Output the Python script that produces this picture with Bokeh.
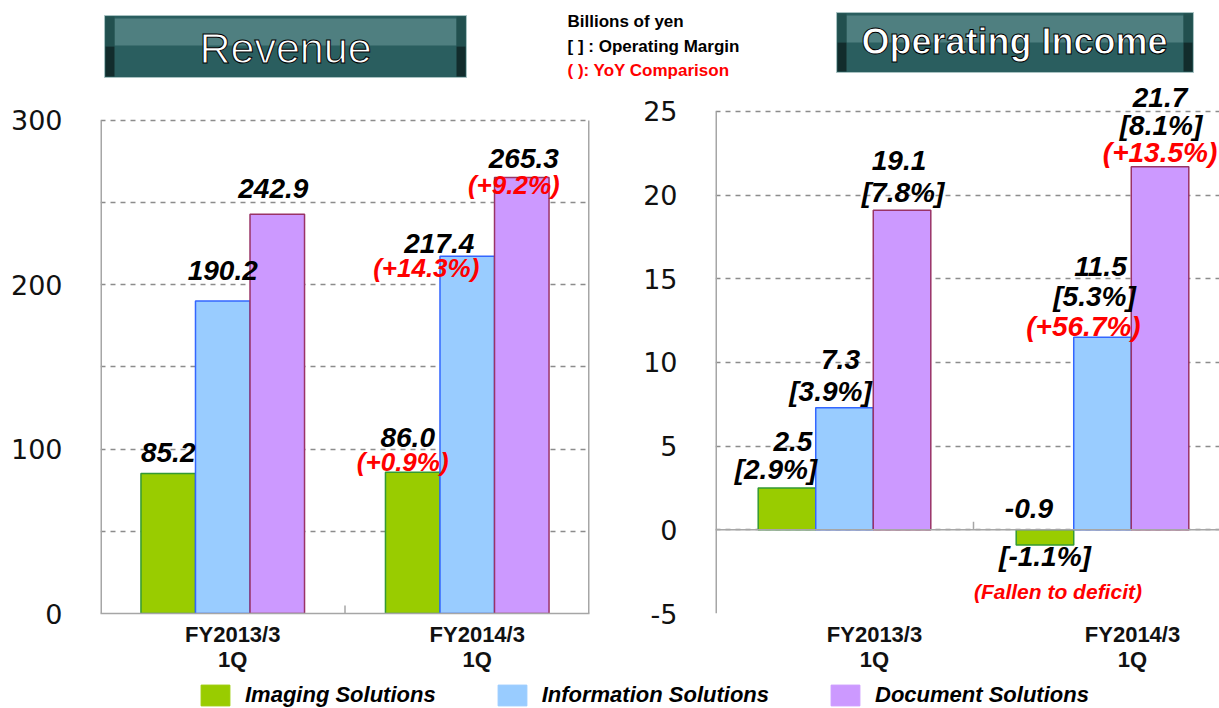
from bokeh.plotting import figure
from bokeh.models import (ColumnDataSource, Range1d, FixedTicker, LabelSet, Span,
                          Legend, LegendItem)
from bokeh.layouts import column, row
from bokeh.embed import file_html
from bokeh.resources import INLINE
from bokeh.core.properties import value, field

# ---------------- data ----------------
categories = ["FY2013/3\n1Q", "FY2014/3\n1Q"]
segments = ["Imaging Solutions", "Information Solutions", "Document Solutions"]

revenue_imaging = [85.2, 86.0]
revenue_information = [190.2, 217.4]
revenue_document = [242.9, 265.3]
revenue_yoy_imaging = [None, 0.9]
revenue_yoy_information = [None, 14.3]
revenue_yoy_document = [None, 9.2]

income_imaging = [2.5, -0.9]
income_information = [7.3, 11.5]
income_document = [19.1, 21.7]
margin_imaging = [2.9, -1.1]
margin_information = [3.9, 5.3]
margin_document = [7.8, 8.1]
income_yoy_imaging = [None, "Fallen to deficit"]
income_yoy_information = [None, 56.7]
income_yoy_document = [None, 13.5]

revenue_ticks = [0, 100, 200, 300]
income_ticks = [-5, 0, 5, 10, 15, 20, 25]

header_notes = ["Billions of yen", "[ ] : Operating Margin", "( ): YoY Comparison"]

# ---------------- styles ----------------
FONT = "Liberation Sans"
TICK_FONT = "DejaVu Sans"
FILL = ["#99cc00", "#99ccff", "#cc99ff"]
EDGE = ["#339933", "#3366ff", "#993366"]
RED = "#ff0000"
AXIS_GREY = "#a6a6a6"
GRID_GREY = "#8c8c8c"
BAR_W = 0.223

# label placement nudges:
# (per-line x nudge px, lowest line centre above bar top px, line spacing px)
REV_LABELS = {
    (0, 0): ([0], 21, 26), (1, 0): ([0], 30, 26), (2, 0): ([-4], 26, 26),
    (0, 1): ([-5, -10], 10, 25), (1, 1): ([-28, -41], -12, 25), (2, 1): ([2, -8], -8, 27),
}
INC_LABELS = {
    (0, 0): ([6, -11], 18, 28), (1, 0): ([-4, -14], 16, 32), (2, 0): ([-3, 1], 18, 32),
    (1, 1): ([-2, -8, -19], 11, 30), (2, 1): ([0, 1, 0], 14, 27.5),
}
INC_NEG = ([-16, 0, 13], 21, [12, 47])

HEAD_H = 80
CH_H = 594
LEG_H = 708 - HEAD_H - CH_H
FRAME_H = 534            # shared plotting-area height of both charts (row aligns them)
REV_TOP_PAD = 40         # px between frame top and the top revenue tick
INC_TOP_PAD = 31         # px between frame top and the top income tick


def label_source(vals, margins, yoys, layout, neg, sizes):
    d = dict(x=[], y=[], text=[], xo=[], yo=[], color=[], size=[])

    def add(x, y, t, xo, yo, col, sz):
        d["x"].append(x); d["y"].append(y); d["text"].append(t)
        d["xo"].append(xo); d["yo"].append(yo); d["color"].append(col); d["size"].append(sz)

    for s in range(len(vals)):
        for c, v in enumerate(vals[s]):
            xc = c + 0.5 + (s - 1) * BAR_W
            lines = [(f"{v:.1f}", "black", sizes["value"])]
            if margins is not None:
                lines.append((f"[{margins[s][c]:.1f}%]", "black", sizes["margin"]))
            yy = yoys[s][c]
            if yy is not None:
                if isinstance(yy, str):
                    lines.append((f"({yy})", RED, sizes["note"]))
                else:
                    lines.append((f"({yy:+.1f}%)", RED, sizes["yoy"]))
            if v >= 0:
                dxs, base, gap = layout[(s, c)]
                n = len(lines)
                for k, (t, col, sz) in enumerate(lines):
                    add(xc, v, t, dxs[k], base + (n - 1 - k) * gap, col, sz)
            else:
                dxs, above, below = neg
                t, col, sz = lines[0]
                add(xc, 0, t, dxs[0], above, col, sz)
                for k in range(1, len(lines)):
                    t, col, sz = lines[k]
                    add(xc, v, t, dxs[k], -below[k - 1], col, sz)
    return ColumnDataSource(d)


def style_chart(p, ticks, minor, label_shift):
    p.yaxis.ticker = FixedTicker(ticks=ticks, minor_ticks=minor)
    p.yaxis.major_label_overrides = {t: str(t) for t in ticks}
    p.ygrid.ticker = FixedTicker(ticks=ticks, minor_ticks=minor)
    p.ygrid.grid_line_color = GRID_GREY
    p.ygrid.grid_line_dash = "5 5"
    p.ygrid.grid_line_width = 1.5
    p.ygrid.minor_grid_line_color = GRID_GREY if minor else None
    p.ygrid.minor_grid_line_dash = "5 5"
    p.ygrid.minor_grid_line_width = 1.5
    p.xgrid.grid_line_color = None
    p.yaxis.axis_line_color = None
    p.yaxis.major_tick_line_color = None
    p.yaxis.minor_tick_line_color = None
    p.yaxis.major_label_text_font = TICK_FONT
    p.yaxis.major_label_text_font_size = "27px"
    p.yaxis.major_label_text_color = "#111111"
    p.yaxis.major_label_standoff = 32
    xt = [round(c + 0.5 + label_shift, 4) for c in range(len(categories))]
    p.xaxis.ticker = FixedTicker(ticks=xt)
    p.xaxis.major_label_overrides = {t: lab for t, lab in zip(xt, categories)}
    p.xaxis.major_tick_line_color = None
    p.xaxis.minor_tick_line_color = None
    p.xaxis.major_label_text_font = FONT
    p.xaxis.major_label_text_font_style = "bold"
    p.xaxis.major_label_text_font_size = "22px"
    p.xaxis.major_label_text_line_height = 1.0
    p.xaxis.major_label_text_color = "#111111"
    p.xaxis.major_label_standoff = 2
    p.background_fill_color = "white"
    p.border_fill_color = "white"
    # left value-axis line, only over the tick span
    p.segment(x0=[0], x1=[0], y0=[ticks[0]], y1=[ticks[-1]], line_color=AXIS_GREY, line_width=3)


def add_bars(p, vals):
    for s in range(len(vals)):
        src = ColumnDataSource(dict(
            x=[c + 0.5 + (s - 1) * BAR_W for c in range(len(categories))],
            top=vals[s]))
        p.vbar(x="x", top="top", bottom=0, width=BAR_W, source=src,
               fill_color=FILL[s], line_color=EDGE[s], line_width=1.5)


def add_labels(p, src):
    p.add_layout(LabelSet(x="x", y="y", text="text", source=src,
                          x_offset=field("xo"), y_offset=field("yo"),
                          text_color=field("color"), text_font_size=field("size"),
                          text_font=value(FONT), text_font_style="bold italic",
                          text_align="center", text_baseline="middle"))


def boundary_ticks(p, px_per_unit, length_px, base):
    b = list(range(1, len(categories)))
    p.segment(x0=b, x1=b, y0=[base] * len(b), y1=[base + length_px / px_per_unit] * len(b),
              line_color=AXIS_GREY, line_width=1.5)


# ---------------- header ----------------
ph = figure(width=1219, height=HEAD_H, x_range=Range1d(0, 1219), y_range=Range1d(HEAD_H, 0),
            toolbar_location=None, output_backend="svg", x_axis_type=None, y_axis_type=None,
            min_border=0, outline_line_color=None)
ph.xgrid.visible = False
ph.ygrid.visible = False
for (l, r, t, b) in [(104, 466, 15, 77), (836, 1193, 12, 72)]:
    ph.quad(left=[l], right=[r], top=[t], bottom=[b], fill_color="#2a5e5f", line_color="#a9c2c2", line_width=1)
    ph.quad(left=[l + 10], right=[r - 10], top=[t + 3], bottom=[t + 30], fill_color="#4f7f80", line_color=None)
    for (a, e) in [(l + 1, l + 10), (r - 10, r - 1)]:
        ph.quad(left=[a], right=[e], top=[t + 1], bottom=[(t + b) / 2], fill_color="#22504f", line_color=None)
        ph.quad(left=[a], right=[e], top=[(t + b) / 2], bottom=[b - 1], fill_color="#122c2c", line_color=None)
ph.text(x=[285], y=[47], text=["Revenue"], text_font=value(FONT), text_font_size="43px",
        text_color="white", text_align="center", text_baseline="middle",
        text_outline_color="black")
ph.text(x=[1014], y=[41], text=["Operating Income"], text_font=value(FONT), text_font_size="36px",
        text_font_style="bold", text_color="white", text_align="center", text_baseline="middle",
        text_outline_color="black")
ph.text(x=[567] * 3, y=[21, 46, 70], text=header_notes, text_font=value(FONT), text_font_size="17px",
        text_font_style="bold", text_color=["black", "black", RED], text_align="left",
        text_baseline="middle")

# ---------------- revenue chart ----------------
rev_vals = [revenue_imaging, revenue_information, revenue_document]
rev_yoy = [revenue_yoy_imaging, revenue_yoy_information, revenue_yoy_document]
REV_PX = (FRAME_H - REV_TOP_PAD) / (revenue_ticks[-1] - revenue_ticks[0])
p1 = figure(width=600, height=CH_H, x_range=Range1d(0, len(categories)),
            y_range=Range1d(revenue_ticks[0], revenue_ticks[-1] + REV_TOP_PAD / REV_PX),
            toolbar_location=None, output_backend="svg",
            min_border_left=100, min_border_right=11, min_border_top=0, min_border_bottom=60,
            outline_line_color=None)
rev_minor = [(a + b) / 2 for a, b in zip(revenue_ticks, revenue_ticks[1:])]
style_chart(p1, revenue_ticks, rev_minor, 10 / 244.5)
p1.xaxis.axis_line_color = AXIS_GREY
p1.xaxis.axis_line_width = 1.5
# right-hand border of the plotting area, over the tick span
p1.segment(x0=[len(categories)], x1=[len(categories)], y0=[revenue_ticks[0]], y1=[revenue_ticks[-1]],
           line_color=AXIS_GREY, line_width=3)
add_bars(p1, rev_vals)
boundary_ticks(p1, REV_PX, 8, 0)
add_labels(p1, label_source(rev_vals, None, rev_yoy, REV_LABELS, None,
                            dict(value="28px", margin="28px", yoy="26px", note="21px")))

# ---------------- operating income chart ----------------
inc_vals = [income_imaging, income_information, income_document]
inc_margin = [margin_imaging, margin_information, margin_document]
inc_yoy = [income_yoy_imaging, income_yoy_information, income_yoy_document]
INC_PX = (FRAME_H - INC_TOP_PAD) / (income_ticks[-1] - income_ticks[0])
p2 = figure(width=619, height=CH_H, x_range=Range1d(0, 504 / 258),
            y_range=Range1d(income_ticks[0], income_ticks[-1] + INC_TOP_PAD / INC_PX),
            toolbar_location=None, output_backend="svg",
            min_border_left=115, min_border_right=0, min_border_top=0, min_border_bottom=60,
            outline_line_color=None)
style_chart(p2, income_ticks, [], 30 / 258)
p2.xaxis.axis_line_color = None
p2.add_layout(Span(location=0, dimension="width", line_color=AXIS_GREY, line_width=1.5))
add_bars(p2, inc_vals)
boundary_ticks(p2, INC_PX, 8, 0)
add_labels(p2, label_source(inc_vals, inc_margin, inc_yoy, INC_LABELS, INC_NEG,
                            dict(value="28px", margin="28px", yoy="28px", note="21px")))

# ---------------- legend strip ----------------
pl = figure(width=1219, height=LEG_H, x_range=Range1d(0, 1), y_range=Range1d(0, 1),
            toolbar_location=None, output_backend="svg", x_axis_type=None, y_axis_type=None,
            min_border=0, outline_line_color=None)
pl.xgrid.visible = False
pl.ygrid.visible = False
items = []
nan = float("nan")
for s, name in enumerate(segments):
    # legend proxy glyph without a drawable position
    r = pl.vbar(x=[nan], top=[nan], width=0.1, fill_color=FILL[s], line_color=FILL[s])
    items.append(LegendItem(label=name, renderers=[r]))
legend = Legend(items=items, orientation="horizontal", location=(197, 0),
                glyph_width=36, glyph_height=26, label_standoff=12, spacing=58,
                padding=0, margin=0, border_line_color=None, background_fill_alpha=0,
                label_text_font=FONT, label_text_font_size="22px", label_text_color="black",
                label_text_font_style="bold italic", label_height=26)
pl.add_layout(legend)

layout = column(ph, row(p1, p2, spacing=0), pl, spacing=0)
open("out.html", "w").write(file_html(layout, INLINE, "Revenue and Operating Income"))
